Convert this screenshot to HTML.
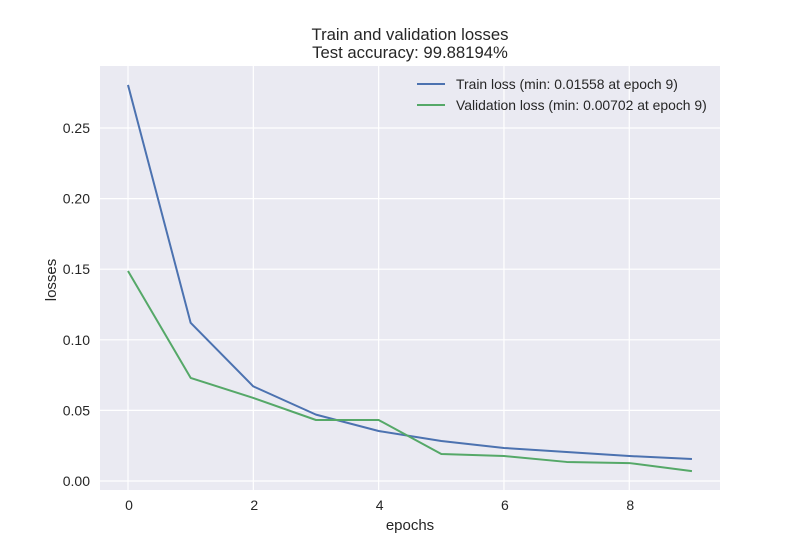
<!DOCTYPE html>
<html><head><meta charset="utf-8"><style>
body{margin:0;background:#fff;}
svg text{font-family:"Liberation Sans",sans-serif;fill:#262626;}
</style></head><body>
<svg id="chart" width="800" height="550" xmlns="http://www.w3.org/2000/svg">
<rect x="100" y="66" width="620" height="424" fill="#eaeaf2"/>
<g id="grid"></g>
<g id="ticks"></g>
<g id="series"></g>
<text x="410" y="40" font-size="16.7" text-anchor="middle">Train and validation losses</text>
<text x="410" y="58" font-size="16.7" text-anchor="middle">Test accuracy: 99.88194%</text>
<text x="410" y="530" font-size="15" text-anchor="middle">epochs</text>
<text x="56" y="280" font-size="15" text-anchor="middle" transform="rotate(-90 56 280)">losses</text>
<g>
<line x1="417" y1="84" x2="445" y2="84" stroke="#4c72b0" stroke-width="2"/>
<text x="456" y="89" font-size="13.9">Train loss (min: 0.01558 at epoch 9)</text>
<line x1="417" y1="105" x2="445" y2="105" stroke="#55a868" stroke-width="2"/>
<text x="456" y="110" font-size="13.9">Validation loss (min: 0.00702 at epoch 9)</text>
</g>
</svg>
<script>
const epochs=[0,1,2,3,4,5,6,7,8,9];
const trainLoss=[0.2805,0.112,0.067,0.047,0.0354,0.0283,0.0234,0.0205,0.0177,0.01558];
const valLoss=[0.1487,0.073,0.0588,0.0432,0.0432,0.0191,0.0177,0.0135,0.0127,0.00702];
const xTicks=[0,2,4,6,8];
const yTicks=[0,0.05,0.10,0.15,0.20,0.25];
const yTickLabels=["0.00","0.05","0.10","0.15","0.20","0.25"];
const NS="http://www.w3.org/2000/svg";
function xs(v){return 128+v*62.66;}
function ys(v){return 481-v*1412;}
function mk(tag,attrs,parent){const e=document.createElementNS(NS,tag);for(const k in attrs)e.setAttribute(k,attrs[k]);document.getElementById(parent).appendChild(e);return e;}
xTicks.forEach(t=>{
 const l=mk('line',{x1:xs(t),x2:xs(t),y1:66,y2:490,stroke:'#fff','stroke-width':1.2},'grid');
 
 
 const tx=mk('text',{x:xs(t)+1,y:510,'font-size':14,'text-anchor':'middle'},'ticks');tx.textContent=t;
 
 
});
yTicks.forEach((t,i)=>{
 const l=mk('line',{x1:100,x2:720,y1:ys(t),y2:ys(t),stroke:'#fff','stroke-width':1.2},'grid');
 
 
 const tx=mk('text',{x:90,y:ys(t)+5,'font-size':14,'text-anchor':'end'},'ticks');tx.textContent=yTickLabels[i];
 
 
});
function line(vals,color,name){
 const p=mk('polyline',{points:epochs.map((e,i)=>xs(e)+','+ys(vals[i])).join(' '),fill:'none',stroke:color,'stroke-width':2,'stroke-linejoin':'round'},'series');
 
 
}
line(trainLoss,'#4c72b0','train-loss-line');
line(valLoss,'#55a868','validation-loss-line');
</script>
</body></html>
